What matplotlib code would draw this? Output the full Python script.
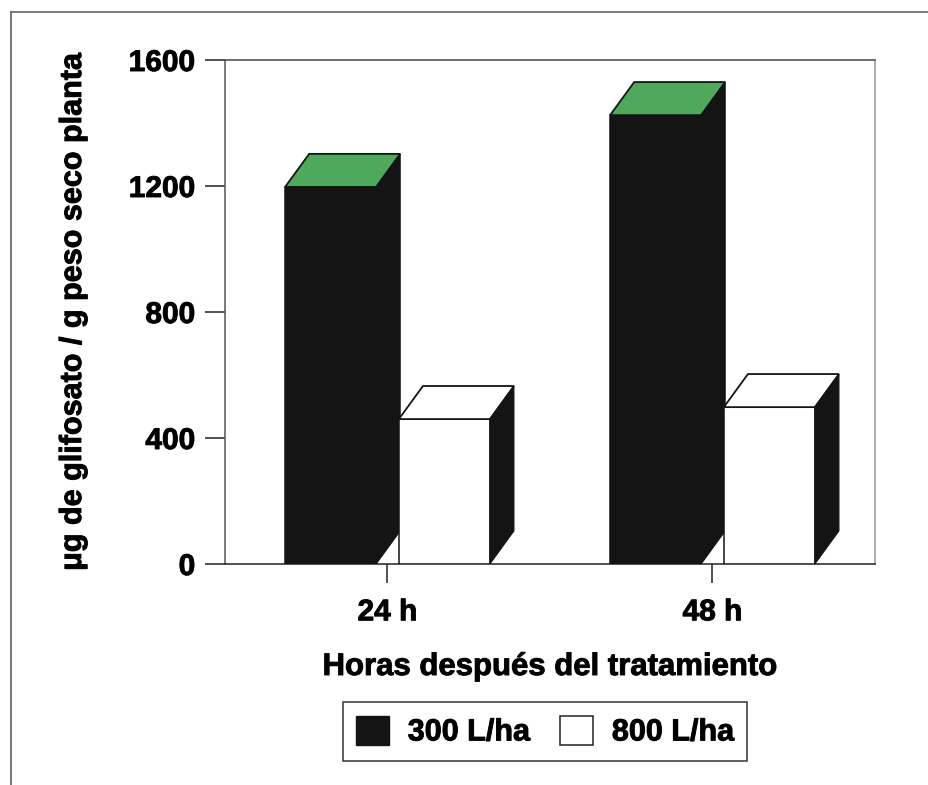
import numpy as np
import matplotlib
matplotlib.use('Agg')
import matplotlib.pyplot as plt
import matplotlib.patheffects as pe
from matplotlib.lines import Line2D
from matplotlib.patches import Patch, Polygon

plt.rcParams['font.family'] = ['Liberation Sans', 'DejaVu Sans']
plt.rcParams['font.weight'] = 'bold'

# datos
horas = ['24 h', '48 h']
dosis = ['300 L/ha', '800 L/ha']
valores_300 = [1197, 1425]
valores_800 = [460, 498]
ticks_y = [0, 400, 800, 1200, 1600]

NEGRO = '#141414'
VERDE = '#4fa95d'
W, H = 929, 785
# el original esta escaneado y la letra sale mas gruesa
GRUESO = [pe.withStroke(linewidth=0.7, foreground='#111111')]


def barra_3d(ax, x, valor, ancho, tapa, fprof_x=0.074, fprof_y=105):
    # frente, tapa y costado de la barra
    ax.bar(x, valor, ancho, color=tapa if tapa == 'white' else NEGRO,
           edgecolor=NEGRO, linewidth=1.1, zorder=3)
    izq, der = x - ancho / 2, x + ancho / 2
    ax.add_patch(Polygon([(izq, valor), (izq + fprof_x, valor + fprof_y),
                          (der + fprof_x, valor + fprof_y), (der, valor)],
                         facecolor=tapa, edgecolor=NEGRO, linewidth=1.3,
                         zorder=3, clip_on=False))
    ax.add_patch(Polygon([(der, 0), (der + fprof_x, fprof_y),
                          (der + fprof_x, valor + fprof_y), (der, valor)],
                         facecolor=NEGRO, edgecolor=NEGRO, linewidth=0.8,
                         zorder=3, clip_on=False))


fig = plt.figure(figsize=(W / 100, H / 100), dpi=100)
ax = fig.add_axes([225 / W, (H - 564) / H, 650 / W, 504 / H])

pos = np.arange(len(horas))
ancho = 0.28
sep = 0.175

for i in pos:
    barra_3d(ax, pos[i] - sep, valores_300[i], ancho, VERDE)
    barra_3d(ax, pos[i] + sep, valores_800[i], ancho, 'white')

ax.set_xlim(-0.5, 1.5)
ax.set_ylim(0, 1600)
ax.set_xticks(pos)
ax.set_xticklabels(horas)
ax.set_yticks(ticks_y)
ax.tick_params(axis='y', length=14.4, width=1.1, pad=7, labelsize=21.5, color='#222222')
ax.tick_params(axis='x', length=13.7, width=1.1, pad=11, labelsize=21.5, color='#222222')

for lado, color in [('left', '#555555'), ('right', '#999999'),
                    ('top', '#444444'), ('bottom', '#222222')]:
    ax.spines[lado].set_color(color)
    ax.spines[lado].set_linewidth(1.1)

ax.set_xlabel('Horas después del tratamiento', fontsize=22.4, fontweight='bold', va='center')
ax.xaxis.set_label_coords(0.5, -(667 - 564) / 504)
ax.set_ylabel('μg de glifosato / g peso seco planta', fontsize=22, fontweight='bold', va='center')
ax.yaxis.set_label_coords(-(225 - 73) / 650, 0.5)

# marco exterior de la pagina
fig.add_artist(Line2D([11 / W, 11 / W], [0, 1 - 12 / H], color='#777777', lw=1.4))
fig.add_artist(Line2D([11 / W, 1], [1 - 12 / H, 1 - 12 / H], color='#666666', lw=1.2))

handles = [Patch(facecolor=NEGRO, edgecolor=NEGRO),
           Patch(facecolor='white', edgecolor='#222222', linewidth=1.1)]
leg = fig.legend(handles, dosis, ncols=2, fontsize=22, loc='center',
                 bbox_to_anchor=(545 / W, 1 - 731.5 / H), fancybox=False,
                 framealpha=1, edgecolor='#333333', handlelength=1.08,
                 handleheight=1.08, handletextpad=0.62, columnspacing=0.98,
                 borderpad=0.43, borderaxespad=0)
leg.get_frame().set_linewidth(1.1)

textos = ax.get_xticklabels() + ax.get_yticklabels() + [ax.xaxis.label, ax.yaxis.label] + leg.get_texts()
for t in textos:
    t.set_path_effects(GRUESO)

fig.savefig('out.png', dpi=100)
